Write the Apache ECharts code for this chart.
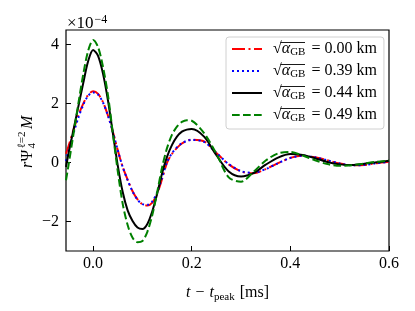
<!DOCTYPE html>
<html>
<head>
<meta charset="utf-8">
<script src="https://cdn.jsdelivr.net/npm/echarts@6/dist/echarts.min.js"></script>
<style>
html,body{margin:0;padding:0;background:#fff;}
#chart{width:415px;height:311px;}
</style>
</head>
<body>
<div id="chart"></div>
<script>
// time axis t - t_peak [ms]
const times = [-0.055, -0.05, -0.04, -0.03, -0.02, -0.01, 0, 0.01, 0.02, 0.03, 0.04, 0.05, 0.06, 0.07, 0.08, 0.09, 0.1, 0.11, 0.12, 0.13, 0.14, 0.15, 0.16, 0.17, 0.18, 0.19, 0.2, 0.225, 0.25, 0.275, 0.3, 0.325, 0.35, 0.375, 0.4, 0.425, 0.45, 0.475, 0.5, 0.525, 0.55, 0.575, 0.6];
// r Psi_4 M in units of 1e-4
const psi000 = [0.3, 0.55, 1.1, 1.6, 2.0, 2.3, 2.42, 2.33, 2.05, 1.6, 1.05, 0.42, -0.15, -0.58, -0.97, -1.25, -1.41, -1.46, -1.36, -1.05, -0.55, 0.0, 0.3, 0.5, 0.65, 0.74, 0.78, 0.72, 0.33, -0.06, -0.3, -0.36, -0.22, -0.02, 0.16, 0.23, 0.18, 0.08, -0.03, -0.09, -0.08, -0.02, 0.03];
const psi039 = [0.05, 0.38, 0.98, 1.52, 1.96, 2.27, 2.38, 2.31, 2.04, 1.6, 1.04, 0.42, -0.15, -0.6, -0.98, -1.26, -1.41, -1.43, -1.32, -1.0, -0.5, 0.02, 0.32, 0.52, 0.66, 0.74, 0.77, 0.7, 0.33, -0.05, -0.29, -0.35, -0.22, -0.02, 0.16, 0.23, 0.18, 0.08, -0.03, -0.09, -0.08, -0.02, 0.03];
const psi044 = [-0.15, 0.3, 1.1, 1.9, 2.7, 3.45, 3.82, 3.62, 3.02, 2.12, 1.0, -0.1, -1.0, -1.62, -1.98, -2.2, -2.25, -2.08, -1.65, -1.05, -0.35, 0.2, 0.6, 0.88, 1.05, 1.12, 1.14, 0.88, 0.25, -0.3, -0.47, -0.36, -0.07, 0.17, 0.29, 0.26, 0.15, 0.02, -0.06, -0.08, -0.04, 0.01, 0.06];
const psi049 = [-0.6, -0.1, 0.95, 2.0, 3.0, 3.8, 4.16, 3.92, 3.25, 2.3, 1.0, -0.3, -1.4, -2.12, -2.55, -2.7, -2.66, -2.35, -1.78, -1.0, -0.15, 0.5, 0.95, 1.22, 1.38, 1.44, 1.42, 1.0, 0.3, -0.5, -0.65, -0.32, 0.07, 0.31, 0.36, 0.24, 0.08, -0.05, -0.11, -0.09, -0.03, 0.03, 0.07];
const radii = ['0.00', '0.39', '0.44', '0.49'];
const xTicks = [0, 0.2, 0.4, 0.6];
const xTickLabels = ['0.0', '0.2', '0.4', '0.6'];
const yTicks = [-2, 0, 2, 4];
const yTickLabels = ['\u22122', '0', '2', '4'];

const FF = "'Liberation Serif', 'DejaVu Serif', serif";
const colors = ['#ff0000', '#0000ff', '#000000', '#008000'];
const dashes = [[13, 3.5, 2, 3.5], [2, 3], 'solid', [7.7, 3.3]];
const allData = [psi000, psi039, psi044, psi049];
const names = radii.map(r => '\u221A\u03B1GB = ' + r + ' km');

const series = allData.map((vals, k) => ({
  type: 'line',
  name: names[k],
  data: times.map((t, i) => [t, vals[i]]),
  symbol: 'none',
  smooth: 0.3,
  lineStyle: { color: colors[k], width: 2, type: dashes[k], cap: 'butt' },
  itemStyle: { color: colors[k] },
  z: 2 + k
}));

// overbars of the square roots in the legend
const bars = radii.map((r, k) => ({
  type: 'line', z: 100,
  shape: { x1: 280.5, y1: 42.5 + 22 * k, x2: 305, y2: 42.5 + 22 * k },
  style: { stroke: '#000', lineWidth: 0.9 }
}));

const chart = echarts.init(document.getElementById('chart'), null, { renderer: 'canvas' });
chart.setOption({
  animation: false,
  backgroundColor: '#fff',
  grid: { left: 66, right: 26, top: 30, bottom: 60, show: true, borderColor: '#000', borderWidth: 1.2, backgroundColor: 'transparent' },
  xAxis: {
    type: 'value', min: -0.055, max: 0.6,
    axisLine: { show: false, onZero: false },
    axisTick: { show: true, inside: true, length: 5, customValues: xTicks, lineStyle: { color: '#000', width: 1 } },
    axisLabel: { customValues: xTicks, formatter: v => xTickLabels[xTicks.indexOf(Math.round(v * 10) / 10)], fontFamily: FF, fontSize: 16, color: '#000', margin: 5 },
    splitLine: { show: false },
    name: '{i|t}{n|\u2212}{i|t}{s|peak}{b|[ms]}',
    nameLocation: 'middle', nameGap: 32,
    nameTextStyle: {
      rich: {
        i: { fontFamily: FF, fontStyle: 'italic', fontSize: 16, color: '#000', lineHeight: 20 },
        n: { fontFamily: FF, fontSize: 16, color: '#000', lineHeight: 20, padding: [0, 5, 0, 5] },
        b: { fontFamily: FF, fontSize: 16, color: '#000', lineHeight: 20, padding: [0, 0, 0, 5] },
        s: { fontFamily: FF, fontSize: 11, color: '#000', lineHeight: 11, padding: [9, 0, 0, 0] }
      }
    }
  },
  yAxis: {
    type: 'value', min: -3, max: 4.5,
    axisLine: { show: false, onZero: false },
    axisTick: { show: true, inside: true, length: 5, customValues: yTicks, lineStyle: { color: '#000', width: 1 } },
    axisLabel: { customValues: yTicks, formatter: v => yTickLabels[yTicks.indexOf(Math.round(v))], fontFamily: FF, fontSize: 16, color: '#000', margin: 7 },
    splitLine: { show: false }
  },
  legend: {
    orient: 'vertical', left: 226, top: 37,
    itemWidth: 30, itemHeight: 14, itemGap: 4,
    padding: [3, 7, 5, 5],
    backgroundColor: 'rgba(255,255,255,0.8)', borderColor: '#d0d0d0', borderWidth: 1, borderRadius: 3,
    selectedMode: false,
    itemStyle: { opacity: 0 },
    data: names,
    formatter: name => '{sq|\u221A}{a|\u03B1}{s|GB}{e| = ' + name.split('= ')[1] + '}',
    textStyle: {
      rich: {
        sq: { fontFamily: FF, fontSize: 16, color: '#000', lineHeight: 18, padding: [0, 0, 0, 6] },
        a: { fontFamily: FF, fontStyle: 'italic', fontSize: 16, color: '#000', lineHeight: 18 },
        s: { fontFamily: FF, fontSize: 11, color: '#000', lineHeight: 11, padding: [7, 2, 0, 0] },
        e: { fontFamily: FF, fontSize: 16, color: '#000', lineHeight: 18 }
      }
    }
  },
  graphic: [
    { type: 'text', left: 67, top: 14, style: { rich: { m: { fontFamily: FF, fontSize: 17, fill: '#000' }, p: { fontFamily: FF, fontSize: 12, fill: '#000', padding: [0, 0, 8, 1] } }, text: '{m|\u00D710}{p|\u22124}' } },
    {
      type: 'group', x: 32, y: 168, rotation: Math.PI / 2,
      children: [
        { type: 'text', x: 0, y: 3.5, style: { text: 'r', font: 'italic 16px ' + FF, fill: '#000', verticalAlign: 'bottom' } },
        { type: 'text', x: 6.5, y: 3.5, style: { text: '\u03A8', font: '16px ' + FF, fill: '#000', verticalAlign: 'bottom' } },
        { type: 'text', x: 19.5, y: -4, style: { text: '\u2113=2', font: '11px ' + FF, fill: '#000', verticalAlign: 'bottom' } },
        { type: 'text', x: 19.5, y: 6, style: { text: '4', font: '11px ' + FF, fill: '#000', verticalAlign: 'bottom' } },
        { type: 'text', x: 39, y: 3.5, style: { text: 'M', font: 'italic 16px ' + FF, fill: '#000', verticalAlign: 'bottom' } }
      ]
    }
  ].concat(bars),
  series: series
});
</script>
</body>
</html>
